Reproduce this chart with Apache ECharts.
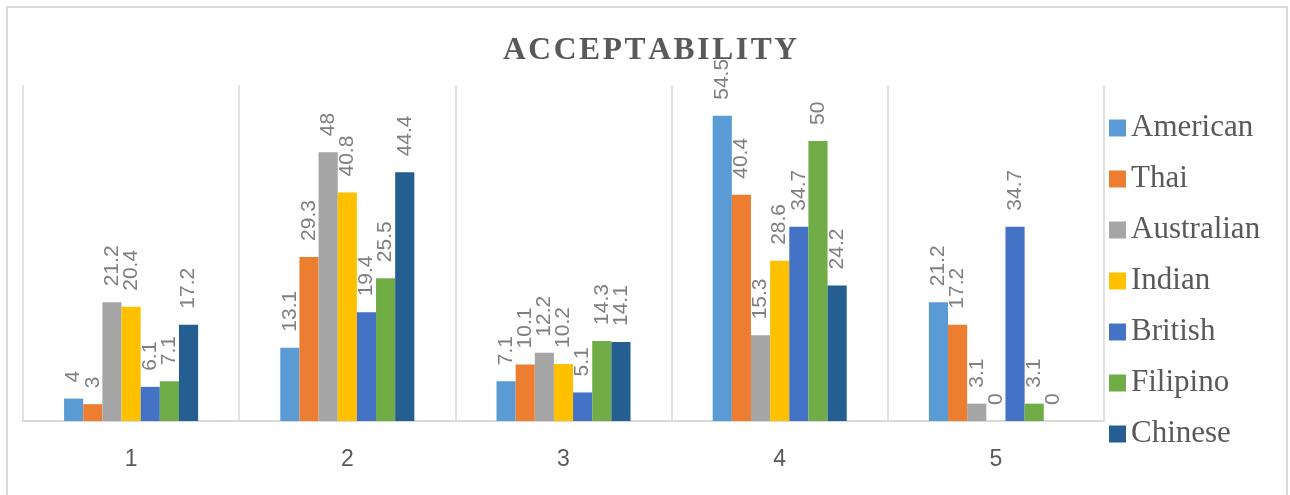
<!DOCTYPE html>
<html>
<head>
<meta charset="utf-8">
<script src="https://cdn.jsdelivr.net/npm/echarts@6/dist/echarts.min.js"></script>
<style>
  html, body { margin: 0; padding: 0; background: #fff; }
  #chart { width: 1290px; height: 495px; }
</style>
</head>
<body>
<div id="chart"></div>
<script>
// Acceptability ratings (1–5) by respondent nationality, percent
const categories = ['1', '2', '3', '4', '5'];
const american   = [4, 13.1, 7.1, 54.5, 21.2];
const thai       = [3, 29.3, 10.1, 40.4, 17.2];
const australian = [21.2, 48, 12.2, 15.3, 3.1];
const indian     = [20.4, 40.8, 10.2, 28.6, 0];
const british    = [6.1, 19.4, 5.1, 34.7, 34.7];
const filipino   = [7.1, 25.5, 14.3, 50, 3.1];
const chinese    = [17.2, 44.4, 14.1, 24.2, 0];

const seriesList = [
  { name: 'American',   data: american,   color: '#5B9BD5' },
  { name: 'Thai',       data: thai,       color: '#ED7D31' },
  { name: 'Australian', data: australian, color: '#A5A5A5' },
  { name: 'Indian',     data: indian,     color: '#FFC000' },
  { name: 'British',    data: british,    color: '#4472C4' },
  { name: 'Filipino',   data: filipino,   color: '#70AD47' },
  { name: 'Chinese',    data: chinese,    color: '#255E91' }
];

const chart = echarts.init(document.getElementById('chart'), null, { renderer: 'canvas' });

chart.setOption({
  animation: false,
  title: {
    text: 'A\u200AC\u200AC\u200AE\u200AP\u200AT\u200AA\u200AB\u200AI\u200AL\u200AI\u200AT\u200AY',
    left: 645,
    textAlign: 'center',
    top: 30,
    textStyle: {
      fontFamily: '"Liberation Serif", "Times New Roman", serif',
      fontSize: 31.5,
      fontWeight: 'bold',
      color: '#595959'
    }
  },
  graphic: [{
    type: 'rect',
    shape: { x: 7, y: 7, width: 1280, height: 500 },
    style: { fill: 'none', stroke: '#d9d9d9', lineWidth: 2 },
    silent: true,
    z: -10
  }],
  legend: {
    orient: 'vertical',
    left: 1104,
    top: 106,
    itemWidth: 17,
    itemHeight: 17,
    itemGap: 17,
    icon: 'rect',
    textStyle: {
      fontFamily: '"Liberation Serif", "Times New Roman", serif',
      fontSize: 31,
      lineHeight: 34,
      color: '#595959'
    },
    data: seriesList.map(s => s.name)
  },
  grid: {
    left: 23,
    right: 186,
    top: 85,
    bottom: 74
  },
  xAxis: {
    type: 'category',
    data: categories,
    axisLine: { show: true, lineStyle: { color: '#d9d9d9', width: 2 } },
    axisTick: { show: false },
    splitLine: { show: true, lineStyle: { color: '#d9d9d9', width: 1.5 } },
    axisLabel: {
      fontFamily: '"Liberation Sans", Arial, sans-serif',
      fontSize: 23,
      color: '#595959',
      margin: 27
    }
  },
  yAxis: {
    type: 'value',
    min: 0,
    max: 60,
    interval: 10,
    show: false,
    splitLine: { show: false }
  },
  series: seriesList.map(s => ({
    name: s.name,
    type: 'bar',
    data: s.data,
    barGap: '0%',
    barCategoryGap: '38%',
    itemStyle: { color: s.color },
    label: {
      show: true,
      position: 'top',
      rotate: 90,
      align: 'left',
      verticalAlign: 'middle',
      distance: 16,
      fontFamily: '"Liberation Sans", Arial, sans-serif',
      fontSize: 21,
      color: '#808080'
    }
  }))
});
</script>
</body>
</html>
